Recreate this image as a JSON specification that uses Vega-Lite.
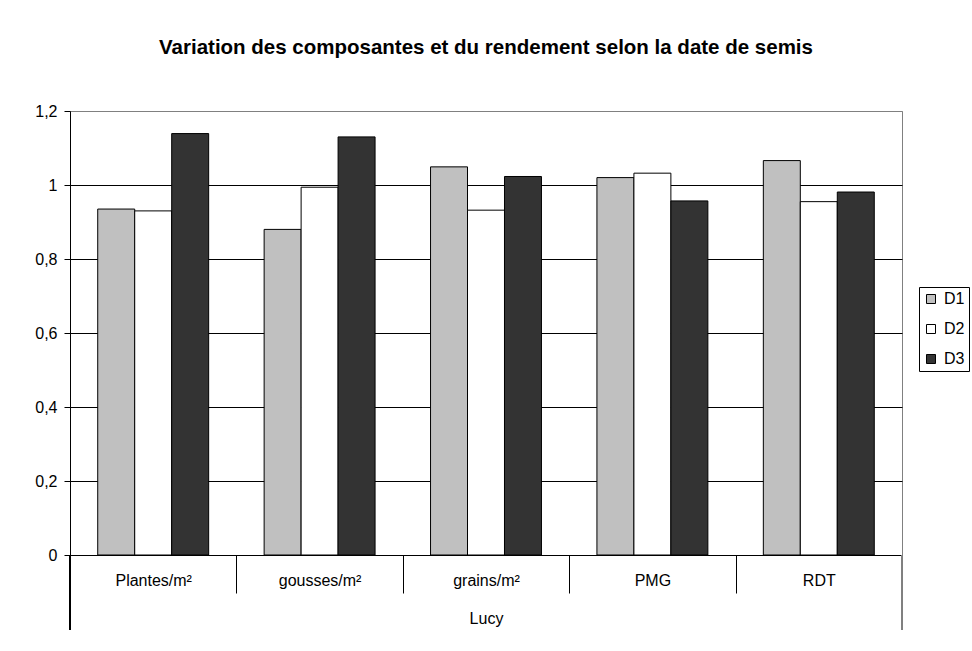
{
  "$schema": "https://vega.github.io/schema/vega-lite/v6.json",
  "width": 832,
  "height": 444,
  "autosize": {"type": "none"},
  "padding": {"left": 70, "top": 111, "right": 70, "bottom": 96},
  "background": "white",
  "config": {
    "font": "Liberation Sans",
    "view": {"stroke": "#808080", "strokeWidth": 1}
  },
  "title": {
    "text": "Variation des composantes et du rendement selon la date de semis",
    "font": "Liberation Sans",
    "fontSize": 20.5,
    "fontWeight": "bold",
    "color": "#000000",
    "anchor": "middle",
    "offset": 45
  },
  "data": {
    "values": [
      {"comp": "Plantes/m²", "date": "D1", "value": 0.935},
      {"comp": "Plantes/m²", "date": "D2", "value": 0.930},
      {"comp": "Plantes/m²", "date": "D3", "value": 1.139},
      {"comp": "gousses/m²", "date": "D1", "value": 0.880},
      {"comp": "gousses/m²", "date": "D2", "value": 0.994},
      {"comp": "gousses/m²", "date": "D3", "value": 1.130},
      {"comp": "grains/m²", "date": "D1", "value": 1.049},
      {"comp": "grains/m²", "date": "D2", "value": 0.932},
      {"comp": "grains/m²", "date": "D3", "value": 1.023},
      {"comp": "PMG", "date": "D1", "value": 1.020},
      {"comp": "PMG", "date": "D2", "value": 1.032},
      {"comp": "PMG", "date": "D3", "value": 0.957},
      {"comp": "RDT", "date": "D1", "value": 1.066},
      {"comp": "RDT", "date": "D2", "value": 0.955},
      {"comp": "RDT", "date": "D3", "value": 0.981}
    ]
  },
  "layer": [
    {
      "mark": {"type": "bar", "stroke": "#000000", "strokeWidth": 1},
      "encoding": {
        "x": {
          "field": "comp",
          "type": "nominal",
          "sort": ["Plantes/m²", "gousses/m²", "grains/m²", "PMG", "RDT"],
          "scale": {"paddingInner": 0, "paddingOuter": 0},
          "axis": {
            "title": "Lucy",
            "titleFontSize": 16,
            "titleFontWeight": "normal",
            "titleColor": "#000000",
            "titlePadding": 17,
            "labelAngle": 0,
            "labelFontSize": 16,
            "labelColor": "#000000",
            "labelPadding": -21,
            "tickBand": "extent",
            "tickSize": 38,
            "tickColor": "#000000",
            "domainColor": "#000000",
            "grid": false
          }
        },
        "xOffset": {
          "field": "date",
          "type": "nominal",
          "sort": ["D1", "D2", "D3"],
          "scale": {"paddingInner": 0, "paddingOuter": 0.75}
        },
        "y": {
          "field": "value",
          "type": "quantitative",
          "scale": {"domain": [0, 1.2], "nice": false},
          "axis": {
            "title": null,
            "values": [0, 0.2, 0.4, 0.6, 0.8, 1, 1.2],
            "labelExpr": "replace(format(datum.value, '~g'), '.', ',')",
            "labelFontSize": 16,
            "labelColor": "#000000",
            "labelPadding": 7,
            "tickSize": 6,
            "tickColor": "#000000",
            "domainColor": "#000000",
            "grid": true,
            "gridColor": {"condition": {"test": "datum.value > 1.1", "value": "#808080"}, "value": "#000000"},
            "gridWidth": 1
          }
        },
        "color": {
          "field": "date",
          "type": "nominal",
          "scale": {"domain": ["D1", "D2", "D3"], "range": ["#C0C0C0", "#FFFFFF", "#333333"]},
          "legend": {
            "title": null,
            "orient": "none",
            "legendX": 849,
            "legendY": 176,
            "strokeColor": "#000000",
            "fillColor": "#FFFFFF",
            "padding": 4,
            "symbolType": "square",
            "symbolSize": 81,
            "symbolStrokeColor": "#000000",
            "symbolStrokeWidth": 1,
            "symbolOpacity": 1,
            "labelFontSize": 16,
            "labelColor": "#000000",
            "labelOffset": 5,
            "rowPadding": 14
          }
        }
      }
    },
    {
      "mark": {"type": "rule", "color": "#000000", "strokeWidth": 1},
      "encoding": {
        "x": {"datum": "Plantes/m²", "type": "nominal", "bandPosition": 0},
        "y": {"datum": 0, "type": "quantitative"},
        "y2": {"datum": -0.2027}
      }
    },
    {
      "mark": {"type": "rule", "color": "#808080", "strokeWidth": 1},
      "encoding": {
        "x": {"datum": "RDT", "type": "nominal", "bandPosition": 1},
        "y": {"datum": 0, "type": "quantitative"},
        "y2": {"datum": -0.2027}
      }
    }
  ]
}
